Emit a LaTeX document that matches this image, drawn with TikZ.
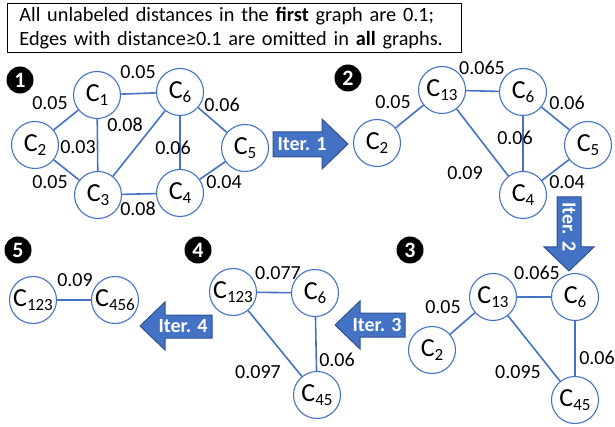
\documentclass[tikz,border=0pt]{standalone}
\usepackage{fontspec}
\setmainfont{Carlito}
\usetikzlibrary{positioning}
\definecolor{cblue}{HTML}{4472C4}
\definecolor{cdark}{HTML}{2F528F}
\newcommand{\cn}[1]{C\raisebox{-4pt}{\fontsize{17}{17}\selectfont #1}}

\begin{document}
\begin{tikzpicture}[x=1pt,y=-1pt,
 c/.style={circle,draw=cblue,line width=1.1pt,fill=white,minimum size=47pt,inner sep=0pt,font=\fontsize{26}{28}\selectfont},
 e/.style={draw=cblue,line width=1.6pt},
 l/.style={font=\fontsize{20}{22}\selectfont,inner sep=1pt},
 num/.style={circle,fill=black,text=white,minimum size=27pt,inner sep=0pt,font=\fontsize{22}{24}\selectfont\bfseries},
 it/.style={fill=cblue,draw=cdark,line width=1pt,line join=miter},
 itl/.style={text=white,font=\fontsize{20}{22}\selectfont\bfseries,inner sep=0pt}]
 \useasboundingbox (0,0) rectangle (615,427);
 \node[draw,line width=0.8pt,anchor=north west,align=left,text width=430pt,inner xsep=12pt,inner ysep=3pt,minimum height=49pt,
  font=\fontsize{20.3}{24}\selectfont] (hd) at (7,3)
  {All unlabeled distances in the \textbf{first} graph are 0.1;\\Edges with distance≥0.1 are omitted in \textbf{all} graphs.};
 % graph 1
 \node[num] (n1) at (20,80) {1};
 \node[c] (a1) at (97,95) {\cn{1}};
 \node[c] (a6) at (180,92) {\cn{6}};
 \node[c] (a2) at (35,145) {\cn{2}};
 \node[c] (a5) at (245,148) {\cn{5}};
 \node[c] (a3) at (98,195) {\cn{3}};
 \node[c] (a4) at (180,193) {\cn{4}};
 \draw[e] (a1)--(a6); \draw[e] (a1)--(a2); \draw[e] (a1)--(a3);
 \draw[e] (a2)--(a3); \draw[e] (a3)--(a6); \draw[e] (a3)--(a4);
 \draw[e] (a6)--(a4); \draw[e] (a6)--(a5); \draw[e] (a5)--(a4);
 \node[l] (la1) at (138,72) {0.05};
 \node[l] (la2) at (50,103) {0.05};
 \node[l] (la3) at (78,147) {0.03};
 \node[l] (la4) at (125,125) {0.08};
 \node[l] (la5) at (222,105) {0.06};
 \node[l] (la6) at (173,148) {0.06};
 \node[l] (la7) at (50,182) {0.05};
 \node[l] (la8) at (224,182) {0.04};
 \node[l] (la9) at (138,209) {0.08};
 \draw[it] (273,132) -- (322,132) -- (322,119) -- (348,144) -- (322,169) -- (322,157) -- (273,157) -- cycle;
 \node[itl] (i1) at (302,144) {Iter. 1};
 % graph 2
 \node[num] (n2) at (348,78) {2};
 \node[c] (b2) at (377,143) {\cn{2}};
 \node[c] (b13) at (442,90) {\cn{13}};
 \node[c] (b6) at (523,92) {\cn{6}};
 \node[c] (b5) at (588,145) {\cn{5}};
 \node[c] (b4) at (523,195) {\cn{4}};
 \draw[e] (b13)--(b6); \draw[e] (b13)--(b2); \draw[e] (b13)--(b4);
 \draw[e] (b6)--(b4); \draw[e] (b6)--(b5); \draw[e] (b5)--(b4);
 \node[l] (lb1) at (482,68) {0.065};
 \node[l] (lb2) at (393,102) {0.05};
 \node[l] (lb3) at (567,103) {0.06};
 \node[l] (lb4) at (515,138) {0.06};
 \node[l] (lb5) at (465,173) {0.09};
 \node[l] (lb6) at (567,182) {0.04};
 \draw[it] (557,197) -- (581,197) -- (581,247) -- (594,247) -- (569,271) -- (544,247) -- (557,247) -- cycle;
 \node[itl,rotate=-90] (i2) at (569,227) {Iter. 2};
 % graph 3
 \node[num] (n3) at (410,250) {3};
 \node[c] (c13) at (493,297) {\cn{13}};
 \node[c] (c6) at (575,297) {\cn{6}};
 \node[c] (c2) at (432,350) {\cn{2}};
 \node[c] (c45) at (575,400) {\cn{45}};
 \draw[e] (c13)--(c6); \draw[e] (c13)--(c2); \draw[e] (c13)--(c45); \draw[e] (c6)--(c45);
 \node[l] (lc1) at (537,273) {0.065};
 \node[l] (lc2) at (443,307) {0.05};
 \node[l] (lc3) at (597,358) {0.06};
 \node[l] (lc4) at (518,372) {0.095};
 \draw[it] (405,313) -- (360,313) -- (360,301) -- (335,325) -- (360,349) -- (360,337) -- (405,337) -- cycle;
 \node[itl] (i3) at (377,325) {Iter. 3};
 % graph 4
 \node[num] (n4) at (198,250) {4};
 \node[c] (d123) at (233,292) {\cn{123}};
 \node[c] (d6) at (315,293) {\cn{6}};
 \node[c] (d45) at (317,395) {\cn{45}};
 \draw[e] (d123)--(d6); \draw[e] (d123)--(d45); \draw[e] (d6)--(d45);
 \node[l] (ld1) at (278,273) {0.077};
 \node[l] (ld2) at (337,360) {0.06};
 \node[l] (ld3) at (258,372) {0.097};
 \draw[it] (212,315) -- (165,315) -- (165,302) -- (140,326) -- (165,350) -- (165,338) -- (212,338) -- cycle;
 \node[itl] (i4) at (183,326) {Iter. 4};
 % graph 5
 \node[num] (n5) at (18,250) {5};
 \node[c] (e123) at (33,300) {\cn{123}};
 \node[c] (e456) at (115,300) {\cn{456}};
 \draw[e] (e123)--(e456);
 \node[l] (le1) at (75,280) {0.09};
\end{tikzpicture}
\end{document}
